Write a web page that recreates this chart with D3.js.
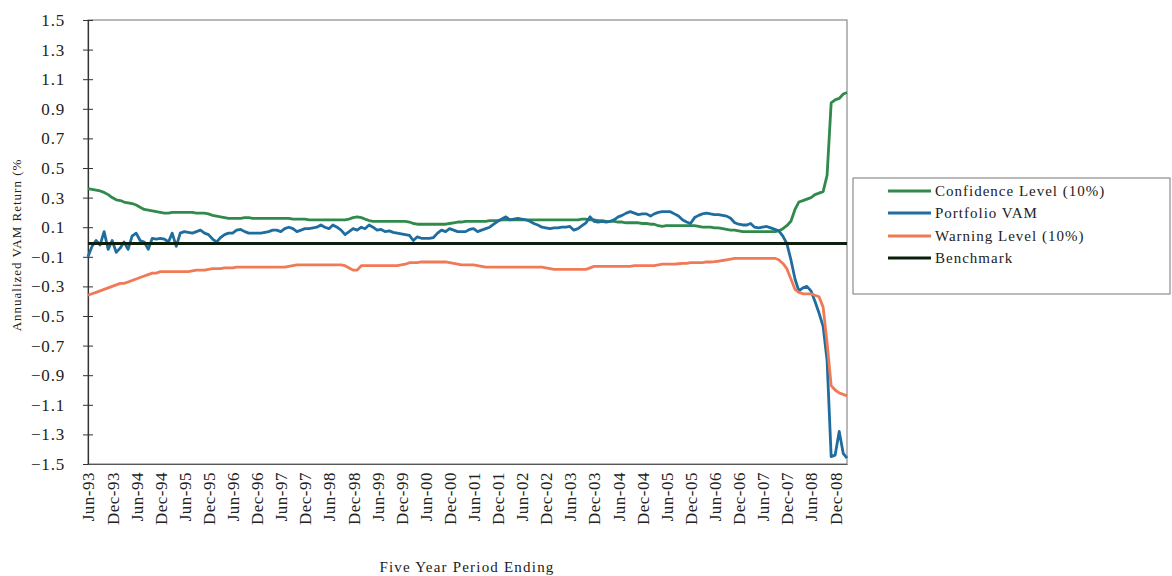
<!DOCTYPE html>
<html><head><meta charset="utf-8">
<script src="https://cdn.jsdelivr.net/npm/d3@7"></script>
<style>
body{margin:0;background:#fff;}
svg{display:block;font-family:"Liberation Serif","Times New Roman",serif;}
</style></head>
<body><svg id="c" width="1172" height="576"></svg>
<script>
// Monthly periods, Jun-93 .. Mar-09 (190 months)
const startMonth = "1993-06";
const endMonth = "2009-03";
const tickLabels = ["Jun-93","Dec-93","Jun-94","Dec-94","Jun-95","Dec-95","Jun-96","Dec-96","Jun-97","Dec-97","Jun-98","Dec-98","Jun-99","Dec-99","Jun-00","Dec-00","Jun-01","Dec-01","Jun-02","Dec-02","Jun-03","Dec-03","Jun-04","Dec-04","Jun-05","Dec-05","Jun-06","Dec-06","Jun-07","Dec-07","Jun-08","Dec-08"];
const yTicks = [1.5,1.3,1.1,0.9,0.7,0.5,0.3,0.1,-0.1,-0.3,-0.5,-0.7,-0.9,-1.1,-1.3,-1.5];

const confidence = [
 0.36,0.355,0.35,0.345,0.335,0.32,0.30,0.285,0.28,0.27,0.265,0.26,
 0.25,0.235,0.22,0.215,0.21,0.205,0.20,0.195,0.195,0.20,0.20,0.20,
 0.20,0.20,0.20,0.195,0.195,0.195,0.19,0.18,0.175,0.17,0.165,0.16,
 0.16,0.16,0.16,0.165,0.165,0.16,0.16,0.16,0.16,0.16,0.16,0.16,
 0.16,0.16,0.16,0.155,0.155,0.155,0.155,0.15,0.15,0.15,0.15,0.15,
 0.15,0.15,0.15,0.15,0.15,0.155,0.165,0.17,0.165,0.155,0.145,0.14,
 0.14,0.14,0.14,0.14,0.14,0.14,0.14,0.14,0.135,0.125,0.12,0.12,
 0.12,0.12,0.12,0.12,0.12,0.12,0.125,0.13,0.135,0.135,0.14,0.14,
 0.14,0.14,0.14,0.14,0.145,0.145,0.145,0.15,0.15,0.15,0.15,0.15,
 0.15,0.15,0.15,0.15,0.15,0.15,0.15,0.15,0.15,0.15,0.15,0.15,
 0.15,0.15,0.15,0.155,0.155,0.15,0.15,0.145,0.145,0.14,0.14,0.14,
 0.135,0.135,0.13,0.13,0.13,0.13,0.125,0.125,0.12,0.12,0.11,0.105,
 0.11,0.11,0.11,0.11,0.11,0.11,0.11,0.11,0.105,0.10,0.10,0.10,
 0.095,0.095,0.09,0.085,0.08,0.08,0.075,0.07,0.07,0.07,0.07,0.07,
 0.07,0.07,0.07,0.07,0.075,0.09,0.11,0.14,0.22,0.27,0.28,0.29,
 0.30,0.32,0.33,0.34,0.45,0.94,0.96,0.97,1.00,1.01
];
const portfolio = [
 -0.10,-0.03,0.01,-0.02,0.07,-0.05,0.01,-0.07,-0.04,0.00,-0.05,0.04,
 0.06,0.01,0.00,-0.05,0.025,0.02,0.025,0.02,0.00,0.06,-0.03,0.06,
 0.07,0.065,0.06,0.07,0.08,0.06,0.05,0.02,0.00,0.03,0.05,0.06,
 0.06,0.08,0.085,0.07,0.06,0.06,0.06,0.06,0.065,0.07,0.08,0.08,
 0.07,0.09,0.10,0.09,0.07,0.08,0.09,0.09,0.095,0.10,0.115,0.10,
 0.09,0.115,0.10,0.08,0.05,0.07,0.09,0.08,0.10,0.09,0.115,0.10,
 0.08,0.085,0.07,0.075,0.065,0.06,0.055,0.05,0.045,0.01,0.035,0.025,
 0.025,0.025,0.03,0.06,0.08,0.07,0.09,0.08,0.07,0.07,0.07,0.085,
 0.09,0.07,0.08,0.09,0.10,0.12,0.14,0.155,0.17,0.15,0.155,0.16,
 0.155,0.15,0.14,0.125,0.115,0.10,0.095,0.09,0.095,0.095,0.10,0.10,
 0.105,0.08,0.09,0.11,0.13,0.17,0.14,0.135,0.14,0.135,0.14,0.15,
 0.17,0.18,0.195,0.205,0.195,0.185,0.19,0.19,0.175,0.19,0.20,0.205,
 0.205,0.205,0.19,0.175,0.15,0.135,0.125,0.165,0.18,0.19,0.195,0.19,
 0.185,0.185,0.18,0.175,0.16,0.13,0.12,0.115,0.115,0.125,0.10,0.095,
 0.10,0.105,0.095,0.085,0.075,0.04,-0.01,-0.12,-0.25,-0.33,-0.31,-0.30,
 -0.33,-0.40,-0.48,-0.57,-0.80,-1.45,-1.44,-1.28,-1.43,-1.46
];
const warning = [
 -0.36,-0.35,-0.34,-0.33,-0.32,-0.31,-0.30,-0.29,-0.28,-0.28,-0.27,-0.26,
 -0.25,-0.24,-0.23,-0.22,-0.21,-0.21,-0.20,-0.20,-0.20,-0.20,-0.20,-0.20,
 -0.20,-0.20,-0.195,-0.19,-0.19,-0.19,-0.185,-0.18,-0.18,-0.18,-0.175,-0.175,
 -0.175,-0.17,-0.17,-0.17,-0.17,-0.17,-0.17,-0.17,-0.17,-0.17,-0.17,-0.17,
 -0.17,-0.17,-0.165,-0.16,-0.155,-0.155,-0.155,-0.155,-0.155,-0.155,-0.155,-0.155,
 -0.155,-0.155,-0.155,-0.155,-0.16,-0.175,-0.19,-0.19,-0.16,-0.16,-0.16,-0.16,
 -0.16,-0.16,-0.16,-0.16,-0.16,-0.16,-0.155,-0.15,-0.14,-0.14,-0.14,-0.135,
 -0.135,-0.135,-0.135,-0.135,-0.135,-0.135,-0.14,-0.145,-0.15,-0.155,-0.155,-0.155,
 -0.155,-0.16,-0.165,-0.17,-0.17,-0.17,-0.17,-0.17,-0.17,-0.17,-0.17,-0.17,
 -0.17,-0.17,-0.17,-0.17,-0.17,-0.17,-0.175,-0.18,-0.185,-0.185,-0.185,-0.185,
 -0.185,-0.185,-0.185,-0.185,-0.185,-0.175,-0.165,-0.165,-0.165,-0.165,-0.165,-0.165,
 -0.165,-0.165,-0.165,-0.165,-0.16,-0.16,-0.16,-0.16,-0.16,-0.16,-0.155,-0.15,
 -0.15,-0.15,-0.15,-0.147,-0.145,-0.145,-0.14,-0.14,-0.14,-0.14,-0.135,-0.135,
 -0.133,-0.13,-0.125,-0.12,-0.115,-0.11,-0.11,-0.11,-0.11,-0.11,-0.11,-0.11,
 -0.11,-0.11,-0.11,-0.11,-0.12,-0.145,-0.18,-0.25,-0.32,-0.34,-0.35,-0.35,
 -0.35,-0.36,-0.37,-0.44,-0.68,-0.97,-1.00,-1.02,-1.03,-1.04
];
const benchmarkLevel = [-0.01, -0.01]; // flat benchmark, first and last period

const seriesNames = ["Confidence Level (10%)","Portfolio VAM","Warning Level (10%)","Benchmark"];
const seriesColors = ["#2f8a4c","#1f6d9e","#ef7a55","#0c1f0c"];

const parse = d3.timeParse("%Y-%m");
const months = d3.timeMonth.range(parse(startMonth), d3.timeMonth.offset(parse(endMonth),1));
const fmt = d3.timeFormat("%b-%y");

const svg = d3.select("#c");
const L=88, R=847, T=20, B=464;
const x = d3.scaleTime().domain([months[0], months[months.length-1]]).range([L,R]);
const y = d3.scaleLinear().domain([-1.5,1.5]).range([B,T]);

// frame
svg.append("rect").attr("x",L).attr("y",T).attr("width",R-L).attr("height",B-T)
  .attr("fill","none").attr("stroke","#8a8a8a").attr("stroke-width",1.2);

// y axis
const yAxis = d3.axisLeft(y).tickValues(yTicks).tickSize(5).tickFormat(d3.format(".1f"));
const gy = svg.append("g").attr("transform",`translate(${L},0)`).call(yAxis);
gy.attr("font-size",null).attr("font-family",null);
gy.select(".domain").attr("stroke","#333").attr("stroke-width",1.2);
gy.selectAll(".tick line").attr("x2",5).attr("x1",-5).attr("stroke","#333");
gy.selectAll(".tick text").attr("x",-23)
  .style("font-size","17px").style("letter-spacing","0.8px").style("font-family","'Liberation Serif', serif")
  .attr("fill","#222");

// x axis labels
const tickDates = tickLabels.map(t => months.find(m => fmt(m) === t));
const xAxis = d3.axisBottom(x).tickValues(tickDates).tickSize(0).tickFormat(fmt);
const gx = svg.append("g").attr("transform",`translate(0,${B})`).call(xAxis);
gx.attr("font-size",null).attr("font-family",null);
gx.select(".domain").attr("stroke","#555").attr("stroke-width",1.2);
gx.selectAll(".tick text")
  .style("font-size","17px").style("letter-spacing","0.5px").style("font-family","'Liberation Serif', serif")
  .attr("fill","#222")
  .attr("transform","rotate(-90)").attr("text-anchor","end")
  .attr("x",-8).attr("y",0).attr("dy","0.35em");

// lines
const line = d3.line().x((d,i)=>x(months[i])).y(d=>y(d));
const data = [confidence, portfolio, warning];
data.forEach((s,k)=>{
  svg.append("path").datum(s).attr("d",line).attr("fill","none")
    .attr("stroke",seriesColors[k]).attr("stroke-width",2.8).attr("stroke-linejoin","round");
});
svg.append("line")
  .attr("x1",x(months[0])).attr("x2",x(months[months.length-1]))
  .attr("y1",y(benchmarkLevel[0])).attr("y2",y(benchmarkLevel[1]))
  .attr("stroke",seriesColors[3]).attr("stroke-width",3.2);

// axis titles
svg.append("text").attr("transform","translate(21,245) rotate(-90)")
  .attr("text-anchor","middle").attr("font-size",13).attr("letter-spacing",1).attr("fill","#222")
  .text("Annualized VAM Return (%");
svg.append("text").attr("x",467).attr("y",572).attr("text-anchor","middle")
  .attr("font-size",15).attr("letter-spacing",1.2).attr("fill","#222")
  .text("Five Year Period Ending");

// legend
const lg = svg.append("g");
lg.append("rect").attr("x",853).attr("y",178).attr("width",317).attr("height",116)
  .attr("fill","#fff").attr("stroke","#777").attr("stroke-width",1);
const rowsY = [191,213,236,258];
seriesNames.forEach((n,k)=>{
  lg.append("line").attr("x1",888).attr("x2",931).attr("y1",rowsY[k]).attr("y2",rowsY[k])
    .attr("stroke",seriesColors[k]).attr("stroke-width",3);
  lg.append("text").attr("x",935).attr("y",rowsY[k]).attr("dy","0.35em")
    .attr("font-size",15).attr("letter-spacing",1).attr("fill","#222").text(n);
});
</script></body></html>
